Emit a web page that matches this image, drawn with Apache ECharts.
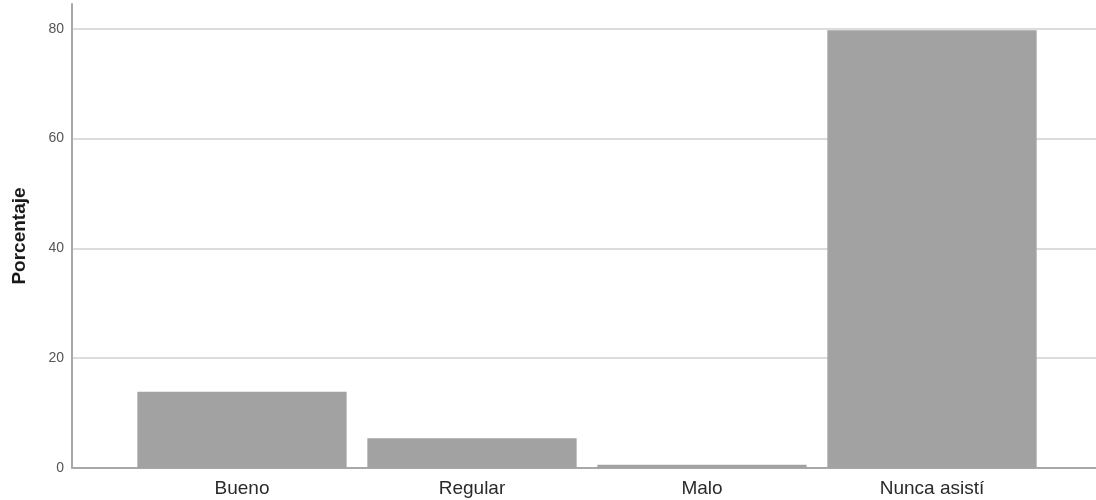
<!DOCTYPE html>
<html>
<head>
<meta charset="utf-8">
<script src="https://cdn.jsdelivr.net/npm/echarts@6/dist/echarts.min.js"></script>
<style>
html,body{margin:0;padding:0;background:#fff;}
#chart{width:1096px;height:500px;}
</style>
</head>
<body>
<div id="chart"></div>
<script>
const categories = ['Bueno', 'Regular', 'Malo', 'Nunca asistí'];
const percentages = [13.9, 5.4, 0.6, 79.7];
const yTicks = [0, 20, 40, 60, 80];
const yAxisName = 'Porcentaje';

const chart = echarts.init(document.getElementById('chart'), null, {renderer: 'canvas'});
const yMax = 84.5;
const FONT = 'Liberation Sans, Arial, sans-serif';
chart.setOption({
  backgroundColor: '#ffffff',
  animation: false,
  grid: [
    {left: 72, right: 0, top: 4, bottom: 32},
    {left: 127, right: 49, top: 4, bottom: 32}
  ],
  xAxis: [
    {
      gridIndex: 0, type: 'value', min: 0, max: 1,
      axisLine: {show: true, lineStyle: {color: '#a8a8a8', width: 2}},
      axisTick: {show: false}, axisLabel: {show: false}, splitLine: {show: false}
    },
    {
      gridIndex: 1, type: 'category', data: categories,
      axisLine: {show: false}, axisTick: {show: false},
      axisLabel: {color: '#2a2a2a', fontSize: 19, fontFamily: FONT, margin: 11}
    }
  ],
  yAxis: [
    {
      gridIndex: 0, type: 'value', min: yTicks[0], max: yMax, interval: yTicks[1] - yTicks[0],
      axisLine: {show: true, lineStyle: {color: '#a8a8a8', width: 2}},
      axisTick: {show: false},
      axisLabel: {color: '#555', fontSize: 14, fontFamily: FONT, margin: 8, showMaxLabel: false},
      splitLine: {show: true, showMinLine: false, showMaxLine: false, lineStyle: {color: '#dcdcdc', width: 2}},
      name: yAxisName, nameLocation: 'middle', nameGap: 43,
      nameTextStyle: {color: '#1a1a1a', fontSize: 19, fontWeight: 'bold', fontFamily: FONT}
    },
    {
      gridIndex: 1, type: 'value', min: yTicks[0], max: yMax, show: false
    }
  ],
  series: [{
    type: 'bar', xAxisIndex: 1, yAxisIndex: 1,
    data: percentages,
    barCategoryGap: '9%',
    itemStyle: {color: '#a2a2a2'},
    z: 3
  }]
});
</script>
</body>
</html>
